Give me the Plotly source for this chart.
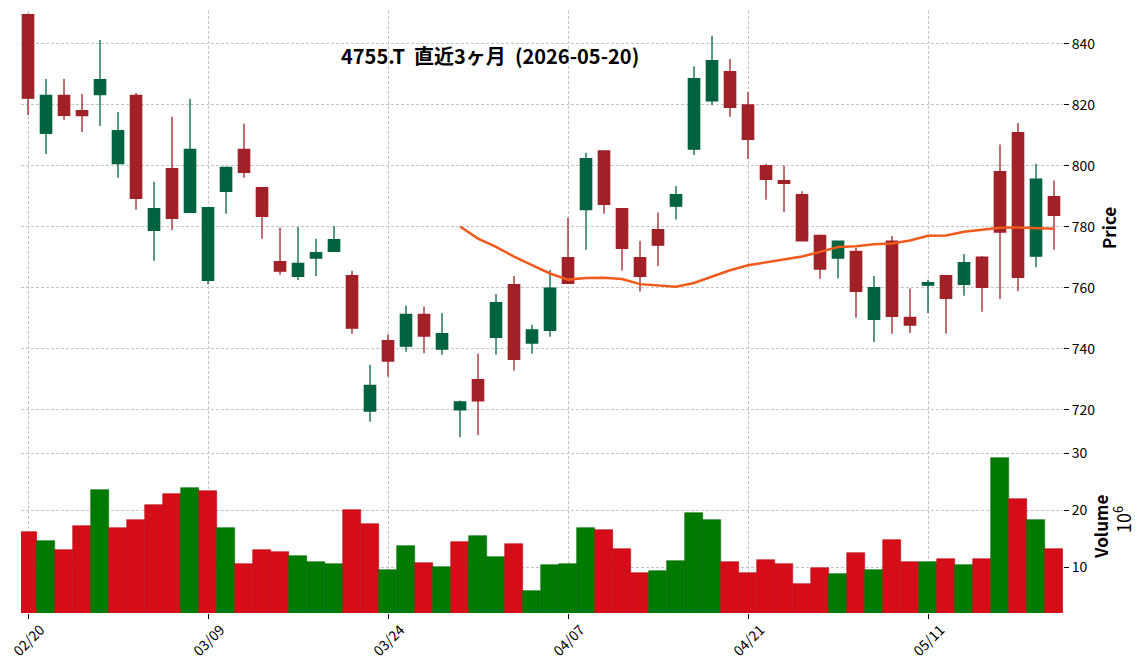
import numpy as np
import pandas as pd
import plotly.graph_objects as go

# ---------------- data ----------------
dates = ["2026-02-20","2026-02-24","2026-02-25","2026-02-26","2026-02-27",
         "2026-03-02","2026-03-03","2026-03-04","2026-03-05","2026-03-06",
         "2026-03-09","2026-03-10","2026-03-11","2026-03-12","2026-03-13",
         "2026-03-16","2026-03-17","2026-03-18","2026-03-19","2026-03-23",
         "2026-03-24","2026-03-25","2026-03-26","2026-03-27","2026-03-30",
         "2026-03-31","2026-04-01","2026-04-02","2026-04-03","2026-04-06",
         "2026-04-07","2026-04-08","2026-04-09","2026-04-10","2026-04-13",
         "2026-04-14","2026-04-15","2026-04-16","2026-04-17","2026-04-20",
         "2026-04-21","2026-04-22","2026-04-23","2026-04-24","2026-04-27",
         "2026-04-28","2026-04-30","2026-05-01","2026-05-07","2026-05-08",
         "2026-05-11","2026-05-12","2026-05-13","2026-05-14","2026-05-15",
         "2026-05-18","2026-05-19","2026-05-20"]

opens = [849.6, 810.7, 823.1, 818.1, 823.4, 800.8, 823.1, 778.9, 799.1, 784.8,
         762.5, 791.7, 805.4, 792.9, 768.6, 763.8, 769.8, 772.0, 764.0, 719.6,
         742.7, 740.9, 751.3, 739.9, 720.0, 729.9, 743.8, 761.1, 741.9, 746.1,
         769.9, 785.7, 804.9, 786.0, 769.9, 779.1, 786.8, 805.5, 821.3, 830.9,
         820.0, 800.1, 795.2, 790.6, 777.2, 769.8, 772.0, 749.7, 775.3, 750.3,
         760.9, 764.0, 761.2, 770.1, 798.1, 810.9, 770.4, 789.9]
highs = [850.0, 828.5, 828.5, 823.6, 841.3, 817.7, 823.9, 794.8, 816.1, 822.0,
         786.3, 799.8, 813.8, 793.2, 779.8, 780.0, 776.1, 780.3, 765.6, 734.8,
         744.7, 754.2, 753.9, 751.8, 723.1, 738.4, 758.0, 763.9, 747.9, 765.9,
         783.0, 804.3, 804.9, 786.0, 775.5, 784.7, 793.4, 832.7, 842.7, 835.1,
         824.2, 800.7, 800.1, 791.7, 777.5, 775.5, 773.1, 763.9, 777.0, 759.8,
         762.7, 764.3, 771.1, 770.5, 807.0, 814.1, 800.7, 795.2]
lows = [816.7, 803.9, 815.1, 811.1, 813.1, 796.1, 785.6, 768.9, 779.0, 784.7,
        761.2, 784.3, 796.1, 776.1, 764.3, 762.6, 763.9, 771.8, 745.0, 716.1,
        730.9, 739.1, 738.6, 738.1, 711.0, 711.8, 738.1, 732.9, 738.4, 744.0,
        761.5, 772.5, 784.3, 765.7, 758.8, 767.2, 782.4, 803.6, 820.0, 816.1,
        802.3, 788.9, 784.9, 775.4, 763.0, 763.1, 750.2, 742.3, 745.0, 745.2,
        751.8, 745.0, 757.4, 752.2, 756.4, 759.0, 766.8, 772.5]
closes = [822.2, 823.1, 816.6, 816.5, 828.3, 811.6, 789.4, 786.0, 782.8, 805.4,
          786.3, 799.5, 797.9, 783.5, 765.5, 768.0, 771.6, 775.8, 746.8, 728.0,
          736.0, 751.3, 744.2, 745.0, 722.6, 723.0, 755.2, 736.6, 746.2, 759.9,
          761.5, 802.4, 787.4, 773.0, 763.8, 774.0, 790.6, 828.6, 834.5, 819.2,
          808.7, 795.6, 794.3, 775.4, 766.2, 775.3, 758.9, 760.1, 750.7, 747.8,
          761.7, 756.6, 768.3, 760.2, 778.3, 763.5, 795.7, 783.8]
# volume in millions of shares
volumes = [16.16, 14.57, 12.99, 17.21, 23.55, 16.86, 18.27, 20.91, 22.84, 23.90,
           23.37, 16.86, 10.53, 12.99, 12.64, 11.94, 10.88, 10.53, 20.03, 17.57,
           9.47, 13.69, 10.70, 10.00, 14.40, 15.45, 11.76, 14.05, 5.78, 10.35,
           10.53, 16.86, 16.51, 13.17, 8.94, 9.30, 11.06, 19.50, 18.27, 10.88,
           8.94, 11.23, 10.53, 7.01, 9.82, 8.77, 12.46, 9.47, 14.75, 10.88,
           10.88, 11.41, 10.35, 11.41, 29.18, 21.96, 18.27, 13.17]

tick_dates = ["2026-02-20", "2026-03-09", "2026-03-24", "2026-04-07", "2026-04-21", "2026-05-11"]
tick_text = ["02/20", "03/09", "03/24", "04/07", "04/21", "05/11"]
price_ticks = [720, 740, 760, 780, 800, 820, 840]
volume_ticks = [10, 20, 30]
title_text = "4755.T\u00a0\u00a0直近3ヶ月\u00a0\u00a0(2026-05-20)"
ma_window = 25

# ---------------- styling ----------------
UP = "#006340"
DOWN = "#A02128"
VUP = "#007a00"
VDOWN = "#d50d18"
MA_COLOR = "#f05a1a"
GRID = "#c4c4c4"
FONT = "Noto Sans CJK JP"

ma = pd.Series(closes).rolling(ma_window).mean()

# volume colour: close vs previous close (first bar: close vs open)
vcolors = [VUP if opens[0] < closes[0] else VDOWN]
for i in range(1, len(closes)):
    vcolors.append(VUP if closes[i - 1] < closes[i] else VDOWN)
vedges = ["#006a00" if c == VUP else "#b80b15" for c in vcolors]

fig = go.Figure()
fig.add_trace(go.Candlestick(
    x=dates, open=opens, high=highs, low=lows, close=closes,
    xaxis="x2", yaxis="y2",
    increasing=dict(line=dict(color=UP, width=1.3), fillcolor=UP),
    decreasing=dict(line=dict(color=DOWN, width=1.3), fillcolor=DOWN),
    whiskerwidth=0, showlegend=False,
))
fig.add_trace(go.Scatter(
    x=dates, y=ma, mode="lines", xaxis="x2", yaxis="y2",
    line=dict(color=MA_COLOR, width=2.5), showlegend=False,
))
fig.add_trace(go.Bar(
    x=dates, y=volumes, xaxis="x", yaxis="y",
    marker=dict(color=vcolors, line=dict(color=vedges, width=0.6)),
    showlegend=False,
))

split = (613 - 441) / 602.0
xr = [-0.39, 57.5]
grid_common = dict(showgrid=True, gridcolor=GRID, gridwidth=0.8, griddash="3px,2px",
                   zeroline=False, showline=False, automargin=False)

fig.update_layout(
    width=1144, height=670,
    margin=dict(l=21, r=81, t=11, b=57),
    paper_bgcolor="white", plot_bgcolor="white",
    font=dict(family=FONT, size=14, color="black"),
    bargap=0, boxgap=0.37, boxgroupgap=0,
    xaxis=dict(type="category", range=xr, domain=[0, 1], anchor="y",
               tickmode="array", tickvals=tick_dates, ticktext=tick_text,
               showticklabels=False,
               ticks="outside", ticklen=5, tickcolor="black",
               **grid_common),
    xaxis2=dict(type="category", range=xr, domain=[0, 1], anchor="y2", matches="x",
                tickmode="array", tickvals=tick_dates, showticklabels=False,
                ticks="", rangeslider=dict(visible=False), **grid_common),
    yaxis=dict(domain=[0, split], range=[2.0, 32.1], side="right", anchor="x",
               tickmode="array", tickvals=volume_ticks,
               ticks="outside", ticklen=5, tickcolor="black",
               tickfont=dict(family=FONT, size=14, color="black"),
               **grid_common),
    yaxis2=dict(domain=[split, 1], range=[709.8, 850.8], side="right", anchor="x2",
                tickmode="array", tickvals=price_ticks,
                ticks="outside", ticklen=5, tickcolor="black",
                tickfont=dict(family=FONT, size=14, color="black"),
                **grid_common),
)

def px_x(px):
    return (px - 21) / 1042.0

def px_y(py):
    return (613 - py) / 602.0

# rotated date labels, centred under their ticks (matplotlib style)
for d, t in zip(tick_dates, tick_text):
    fig.add_annotation(text=t, x=d, xref="x", y=px_y(640), yref="paper",
                       textangle=-45, showarrow=False, xanchor="center", yanchor="middle",
                       font=dict(family=FONT, size=14, color="black"))

fig.add_annotation(text="<b>" + title_text + "</b>", x=px_x(490), y=px_y(55),
                   xref="paper", yref="paper", showarrow=False,
                   xanchor="center", yanchor="middle",
                   font=dict(family=FONT, size=20, color="black"))
fig.add_annotation(text="<b>Price</b>", x=px_x(1109), y=px_y(228), textangle=-90,
                   xref="paper", yref="paper", showarrow=False,
                   xanchor="center", yanchor="middle",
                   font=dict(family=FONT, size=17, color="black"))
fig.add_annotation(text="<b>Volume</b>", x=px_x(1100), y=px_y(527), textangle=-90,
                   xref="paper", yref="paper", showarrow=False,
                   xanchor="center", yanchor="middle",
                   font=dict(family=FONT, size=17, color="black"))
fig.add_annotation(text="10<sup>6</sup>", x=px_x(1122), y=px_y(520), textangle=-90,
                   xref="paper", yref="paper", showarrow=False,
                   xanchor="center", yanchor="middle",
                   font=dict(family=FONT, size=18, color="black"))

fig.write_html("out.html")
